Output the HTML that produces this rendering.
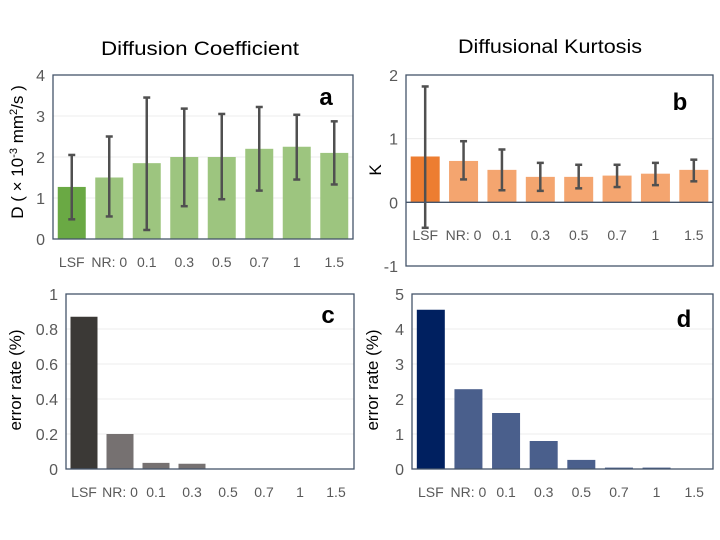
<!DOCTYPE html>
<html><head><meta charset="utf-8">
<style>
body{margin:0;background:#fff;}
svg{display:block;font-family:"Liberation Sans",sans-serif;}
</style></head>
<body>
<svg id="chart" width="720" height="540" viewBox="0 0 720 540" xmlns="http://www.w3.org/2000/svg">
<text x="200" y="55" font-size="19" text-anchor="middle" textLength="198" lengthAdjust="spacingAndGlyphs" fill="#000">Diffusion Coefficient</text>
<text x="550" y="53" font-size="19" text-anchor="middle" textLength="184" lengthAdjust="spacingAndGlyphs" fill="#000">Diffusional Kurtosis</text>
</svg>
<script>
const categories = ["LSF","NR: 0","0.1","0.3","0.5","0.7","1","1.5"];
const dValues = [1.27,1.5,1.85,2.0,2.0,2.2,2.25,2.1];
const dErrHigh = [2.05,2.5,3.45,3.18,3.05,3.22,3.03,2.87];
const dErrLow = [0.48,0.55,0.22,0.8,0.97,1.18,1.45,1.33];
const kValues = [0.72,0.65,0.51,0.4,0.4,0.42,0.45,0.51];
const kErrHigh = [1.82,0.96,0.83,0.62,0.59,0.59,0.62,0.67];
const kErrLow = [-0.4,0.36,0.19,0.18,0.22,0.24,0.27,0.33];
const dErrorRate = [0.87,0.2,0.035,0.03,0,0,0,0];
const kErrorRate = [4.55,2.28,1.6,0.8,0.26,0.04,0.04,0];
const ticksA = [0,1,2,3,4];
const ticksB = [-1,0,1,2];
const ticksC = [0,0.2,0.4,0.6,0.8,1];
const ticksD = [0,1,2,3,4,5];

const NS="http://www.w3.org/2000/svg";
const svg=document.getElementById('chart');
function mk(tag,attrs,parent){const e=document.createElementNS(NS,tag);for(const k in attrs)e.setAttribute(k,attrs[k]);(parent||svg).appendChild(e);return e;}

function panel(o){
  const g=mk('g',{});
  
  
  const y=v=>o.y0+(o.y1-o.y0)*(v-o.min)/(o.max-o.min);
  const step=(o.x1-o.x0)/categories.length;
  const x=i=>o.x0+step*(i+0.5);
  o.ticks.forEach(t=>{
    if(t!==o.min&&t!==o.max&&t!==0){
      const l=mk('line',{x1:o.x0,x2:o.x1,y1:y(t),y2:y(t),stroke:'#ececec','stroke-width':1},g);
      
      
    }
    const tx=mk('text',{x:o.x0-8,y:y(t)+6,'font-size':16,'text-anchor':'end',fill:'#595959'},g);
    
    
    tx.textContent=String(t);
  });
  o.values.forEach((v,i)=>{
    const top=y(Math.max(v,0)),bot=y(0);
    const r=mk('rect',{x:x(i)-o.bw/2,y:top,width:o.bw,height:Math.max(bot-top,0),fill:i===0?o.c0:o.c1},g);
    
    
  });
  if(o.hi){
    o.hi.forEach((h,i)=>{
      const eg=mk('g',{stroke:'#505050','stroke-width':2.5},g);
      
      
      mk('line',{x1:x(i),x2:x(i),y1:y(h),y2:y(o.lo[i])},eg);
      mk('line',{x1:x(i)-3.5,x2:x(i)+3.5,y1:y(h),y2:y(h)},eg);
      mk('line',{x1:x(i)-3.5,x2:x(i)+3.5,y1:y(o.lo[i]),y2:y(o.lo[i])},eg);
    });
  }
  if(o.min<0){
    const zl=mk('line',{x1:o.x0,x2:o.x1,y1:y(0),y2:y(0),stroke:'#44546a','stroke-width':1.3},g);
    
    
  }
  const b=mk('rect',{x:o.x0,y:o.y1,width:o.x1-o.x0,height:o.y0-o.y1,fill:'none',stroke:'#44546a','stroke-width':1.3},g);
  
  
  categories.forEach((c,i)=>{
    const t=mk('text',{x:x(i),y:o.ly,'font-size':14,'text-anchor':'middle',fill:'#595959'},g);
    
    
    t.textContent=c;
  });
  const L=mk('text',{x:o.lx,y:o.lyy,'font-size':24,'font-weight':'bold','text-anchor':'middle',fill:'#000'},g);
  
  
  L.textContent=o.letter;
  const yt=mk('text',{x:0,y:0,'font-size':17,'text-anchor':'middle',fill:'#000',transform:`translate(${o.tx},${o.ty}) rotate(-90)`},g);
  
  
  if(o.titleHTML){
    const s1=mk('tspan',{},yt);s1.textContent='D ( × 10';
    const s2=mk('tspan',{'font-size':11,dy:-6},yt);s2.textContent='-3';
    const s3=mk('tspan',{dy:6},yt);s3.textContent=' mm';
    const s4=mk('tspan',{'font-size':11,dy:-6},yt);s4.textContent='2';
    const s5=mk('tspan',{dy:6},yt);s5.textContent='/s )';
  } else yt.textContent=o.title;
}

panel({name:'panel-a-diffusion',x0:53,x1:353,y0:239,y1:75,min:0,max:4,ticks:ticksA,values:dValues,hi:dErrHigh,lo:dErrLow,bw:28,c0:'#6aa944',c1:'#9dc57f',ly:267,letter:'a',lx:326,lyy:105,tx:23,ty:152,titleHTML:true});
panel({name:'panel-b-kurtosis',x0:406,x1:713,y0:266,y1:75,min:-1,max:2,ticks:ticksB,values:kValues,hi:kErrHigh,lo:kErrLow,bw:29,c0:'#ed7d31',c1:'#f4a56f',ly:240,letter:'b',lx:680,lyy:110,tx:381,ty:170,title:'K'});
panel({name:'panel-c-d-error-rate',x0:66,x1:354,y0:469,y1:294,min:0,max:1,ticks:ticksC,values:dErrorRate,bw:27,c0:'#3b3936',c1:'#767171',ly:497,letter:'c',lx:328,lyy:323,tx:21,ty:380,title:'error rate (%)'});
panel({name:'panel-d-k-error-rate',x0:412,x1:713,y0:469,y1:294,min:0,max:5,ticks:ticksD,values:kErrorRate,bw:28,c0:'#002060',c1:'#4a5f8c',ly:497,letter:'d',lx:684,lyy:327,tx:378,ty:380,title:'error rate (%)'});
</script>
</body></html>
